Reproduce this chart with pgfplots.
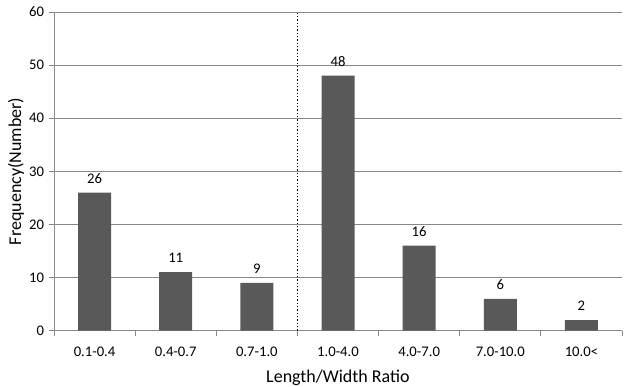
\documentclass[border=0pt]{standalone}
\usepackage{pgfplots}
\pgfplotsset{compat=1.18}
\usepackage{fontspec}
\setmainfont{Carlito}
\definecolor{bargray}{HTML}{595959}
\definecolor{gridgray}{HTML}{878787}
\begin{document}
\begin{tikzpicture}
\useasboundingbox (-40.5pt,-42pt) rectangle (430.5pt,248pt);
\begin{axis}[
  scale only axis,
  width=426pt, height=239pt,
  xmin=-0.5, xmax=6.5,
  ymin=0, ymax=60,
  ytick={0,10,...,60},
  xtick={0,...,6},
  xticklabels={0.1-0.4,0.4-0.7,0.7-1.0,1.0-4.0,4.0-7.0,7.0-10.0,10.0<},
  major x tick style={draw=none},
  minor xtick={-0.5,0.5,...,6.5},
  minor x tick style={gridgray, line width=0.6pt},
  minor tick length=4pt,
  major tick length=4pt,
  axis x line*=bottom,
  axis y line*=left,
  axis line style={gridgray, line width=0.6pt},
  y axis line style={-},
  x axis line style={-},
  tick align=outside,
  ytick style={gridgray, line width=0.6pt},
  ymajorgrids,
  grid style={gridgray, line width=0.6pt},
  tick label style={font=\fontsize{11}{13}\selectfont, text=black},
  xticklabel style={yshift=-5pt},
  xlabel={Length/Width Ratio},
  ylabel={Frequency(Number)},
  label style={font=\fontsize{13.5}{15}\selectfont},
  xlabel style={yshift=-2.5pt},
  ylabel style={yshift=-3pt},
  /pgf/number format/assume math mode=true,
  nodes near coords,
  every node near coord/.append style={font=\fontsize{11}{13}\selectfont, text=black, yshift=3.5pt},
  clip=false,
]
\addplot[ybar, bar width=24.75pt, fill=bargray, draw=none] coordinates {
  (0,26) (1,11) (2,9) (3,48) (4,16) (5,6) (6,2)
};
\draw[black, line width=1.1pt, dash pattern=on 1.1pt off 1.4pt] (axis cs:2.5,0) -- (axis cs:2.5,60);
\end{axis}
\end{tikzpicture}
\end{document}
